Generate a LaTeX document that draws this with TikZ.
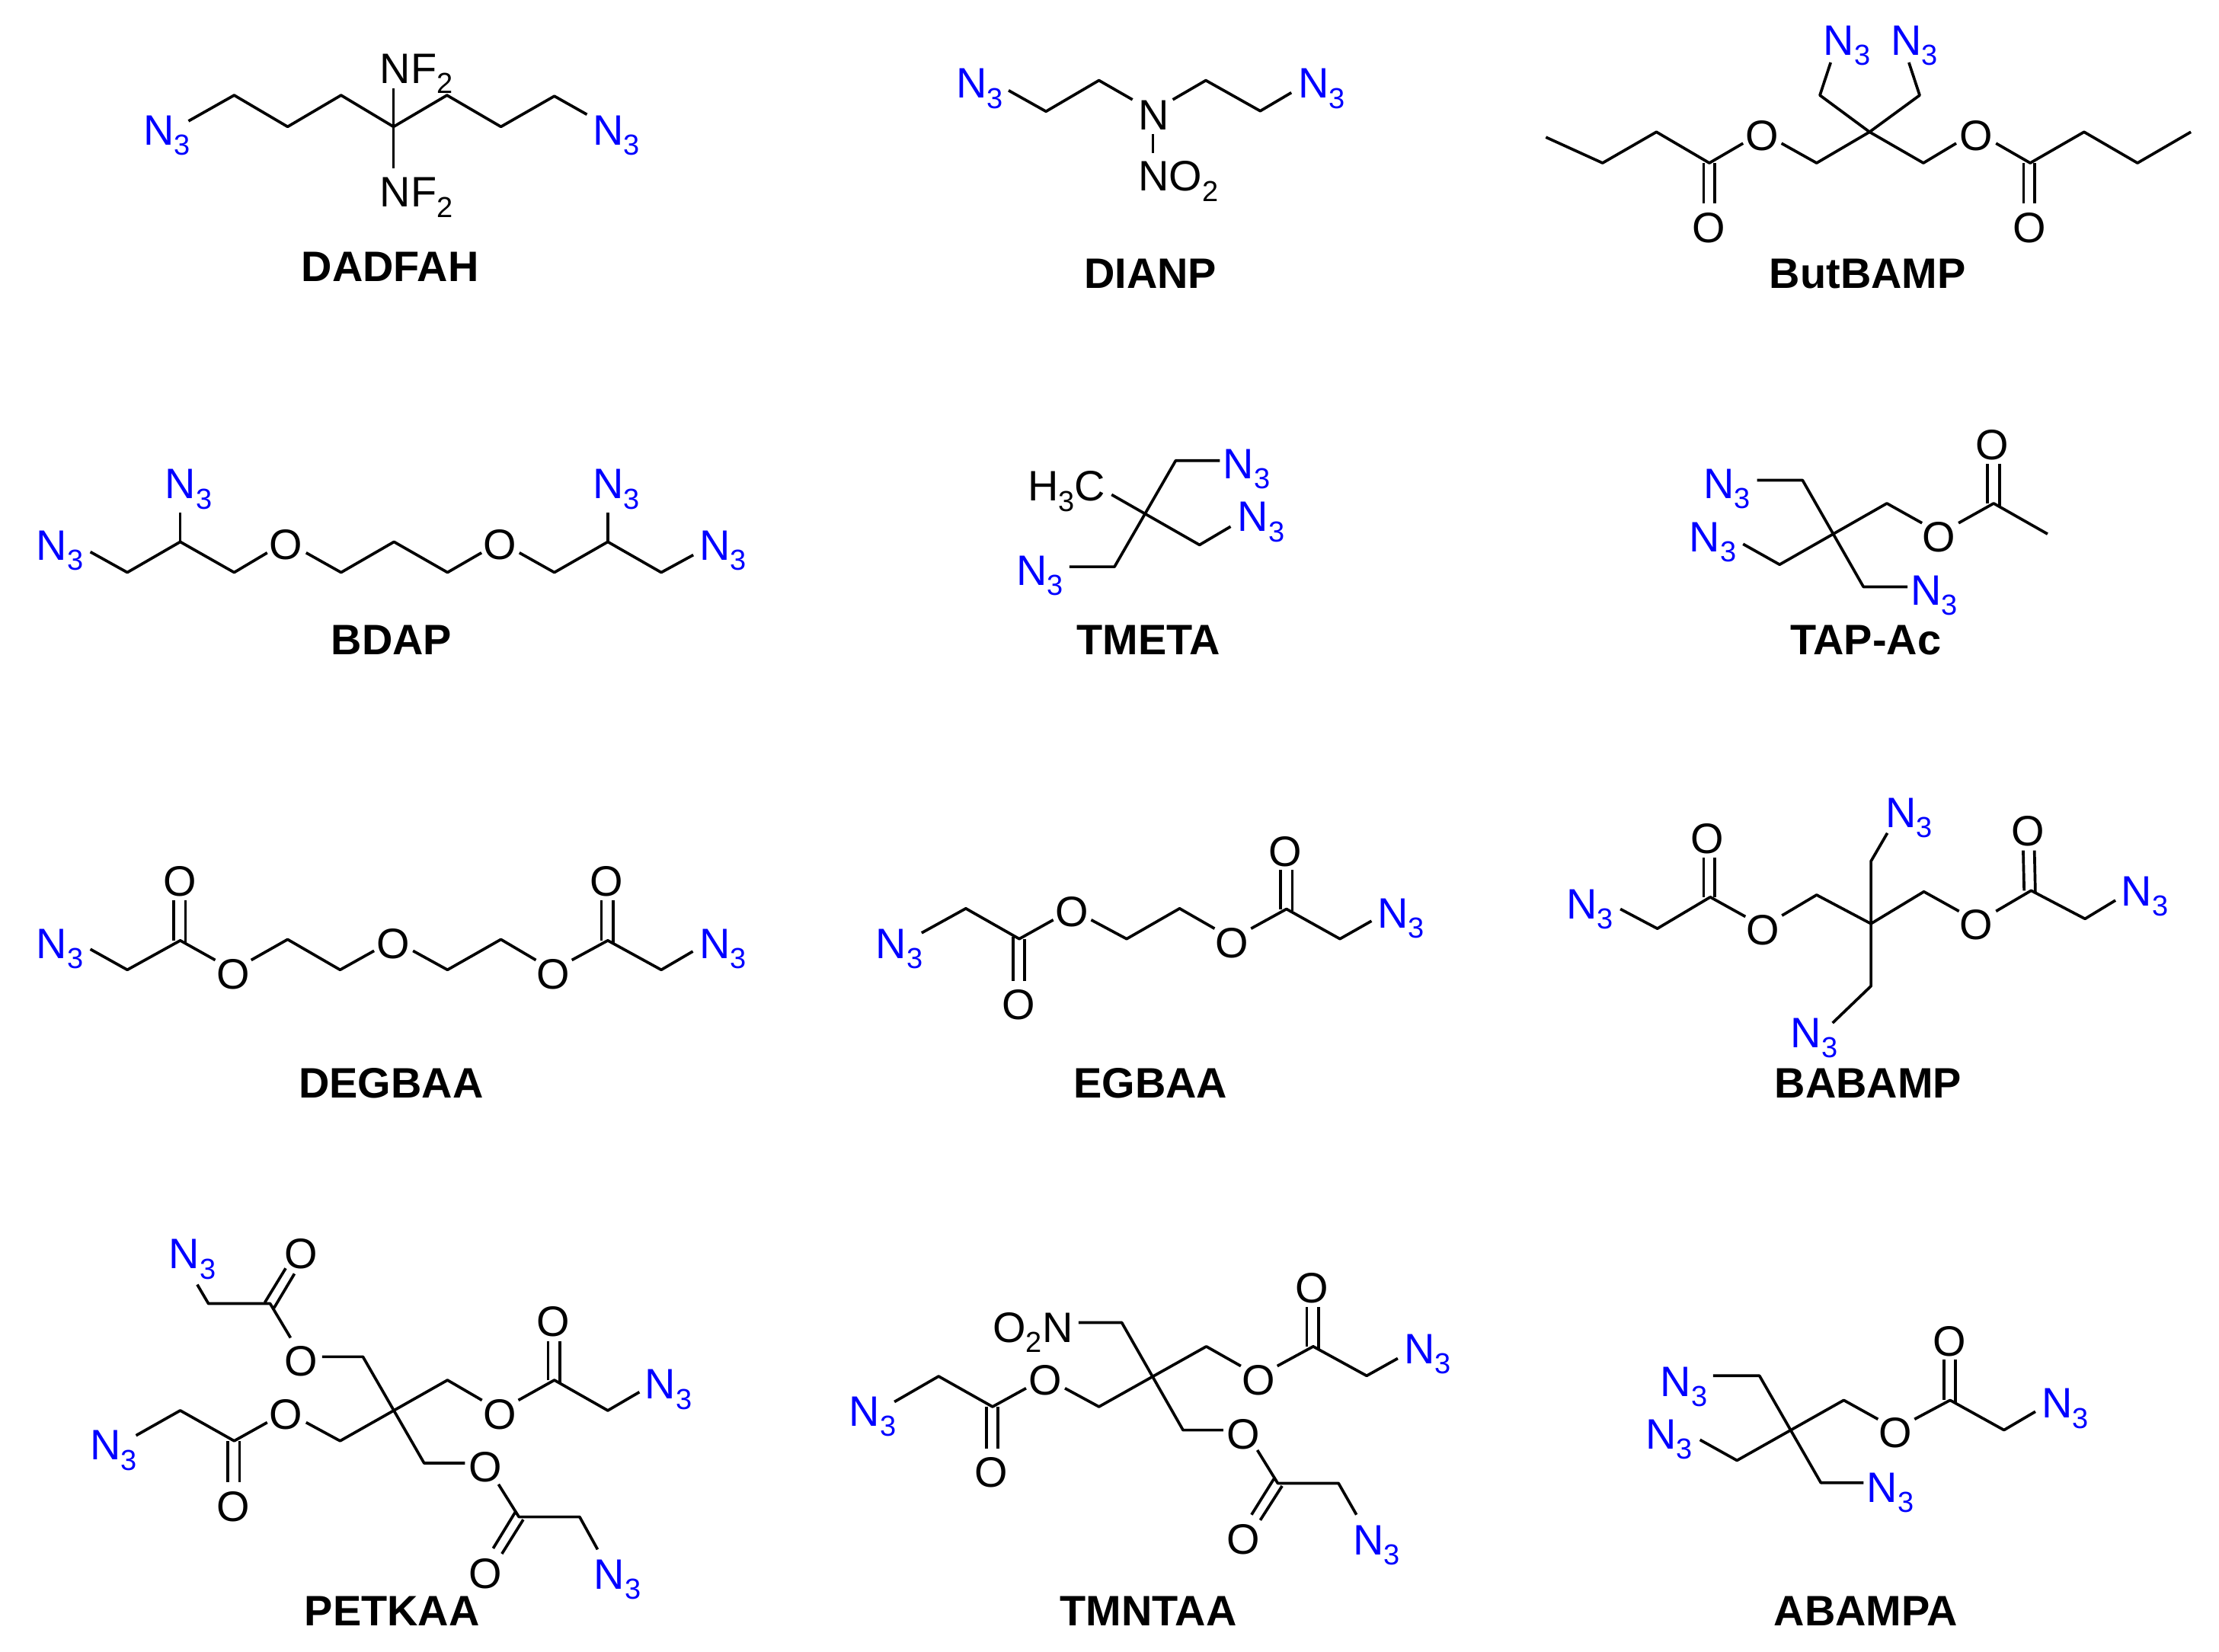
\documentclass[tikz,border=0pt]{standalone}
\usepackage{fontspec}
\setmainfont{Liberation Sans}
\definecolor{azide}{RGB}{0,0,255}
\newcommand\subs[1]{\raisebox{-3.8pt}{\fontsize{10.8pt}{12pt}\selectfont #1}}
\newcommand\NT[2]{\node[lab,azide] (#1) at (#2) {N\subs{3}};}
\newcommand\OX[2]{\node[oxy] (#1) at (#2) {O};}
\tikzset{
  bond/.style={line width=1.05pt,line join=round,line cap=butt},
  lab/.style={anchor=base west,inner sep=0pt,xshift=-0.04cm,yshift=-0.02cm,font=\fontsize{15.9pt}{18pt}\selectfont},
  oxy/.style={anchor=center,inner sep=0pt,yshift=-0.02cm,font=\fontsize{15.9pt}{18pt}\selectfont},
  title/.style={anchor=center,inner sep=0pt,yshift=-0.012cm,font=\fontsize{15.9pt}{18pt}\selectfont\bfseries},
  cropA/.style={shift={(0cm,0cm)},x=0.00637821cm,y=-0.00574038cm},
  cropB/.style={shift={(10cm,0cm)},x=0.00637821cm,y=-0.00574038cm},
  cropC/.style={shift={(19.5cm,0cm)},x=0.00614222cm,y=-0.00574038cm},
  cropD/.style={shift={(0cm,-10.51cm)},x=0.00637821cm,y=-0.00713083cm},
  cropE/.style={shift={(10cm,-10.51cm)},x=0.00637821cm,y=-0.00713083cm},
  cropF/.style={shift={(19.5cm,-10.51cm)},x=0.00614222cm,y=-0.00713083cm},
}
\begin{document}
\begin{tikzpicture}
\useasboundingbox (0,0) rectangle (29.13,-21.68);
\fill[white] (0,0) rectangle (29.13,-21.68);

% ---------- DADFAH and BDAP
\begin{scope}[cropA]
\draw[bond] (388,277)--(482,218)--(592,290)--(702,218)--(810,290)--(920,218)--(1031,290)--(1141,220)--(1208,262);
\draw[bond] (810,202)--(810,385);
\NT{dadA}{300,328}
\NT{dadB}{1225,328}
\node[lab] (dadC) at (787,187) {NF\subs{2}};
\node[lab] (dadD) at (787,470) {NF\subs{2}};
\node[title] (tDADFAH) at (803,608) {DADFAH};

\draw[bond] (186,1263)--(262,1310)--(371,1240)--(482,1310)--(550,1265);
\draw[bond] (630,1265)--(702,1310)--(811,1240)--(921,1310)--(991,1265);
\draw[bond] (1069,1265)--(1141,1310)--(1251,1240)--(1361,1310)--(1427,1270);
\draw[bond] (371,1240)--(371,1173);
\draw[bond] (1251,1240)--(1251,1173);
\NT{bdA}{80,1278}
\NT{bdB}{345,1138}
\NT{bdC}{1225,1138}
\NT{bdD}{1445,1278}
\OX{bdE}{589,1244}
\OX{bdF}{1029,1244}
\node[title] (tBDAP) at (806,1463) {BDAP};
\end{scope}

% ---------- DIANP and TMETA
\begin{scope}[cropB]
\draw[bond] (508,207)--(585,255)--(694,184)--(763,228);
\draw[bond] (846,228)--(914,184)--(1026,254)--(1090,212);
\draw[bond] (805,306)--(805,350);
\NT{diA}{405,221}
\NT{diB}{1109,221}
\node[lab] (diC) at (780,293) {N};
\node[lab] (diD) at (780,434) {NO\subs{2}};
\node[title] (tDIANP) at (800,625) {DIANP};

\draw[bond] (720,1132)--(901,1247)--(965,1205);
\draw[bond] (943,1054)--(852,1054)--(726,1297)--(633,1297);
\node[lab] (tmA) at (553,1143) {H\subs{3}C};
\NT{tmB}{955,1092}
\NT{tmC}{985,1213}
\NT{tmD}{529,1336}
\node[title] (tTMETA) at (796,1463) {TMETA};
\end{scope}

% ---------- ButBAMP and TAP-Ac
\begin{scope}[cropC]
\draw[bond] (129,314)--(250,373)--(365,302)--(478,373)--(550,328);
\draw[bond] (632,328)--(707,373)--(820,302)--(935,373)--(1005,328);
\draw[bond] (1090,328)--(1163,373)--(1278,302)--(1392,373)--(1506,302);
\draw[bond] (737,143)--(714,218)--(820,302)--(927,218)--(904,143);
\draw[bond] (466,373)--(466,466) (490,373)--(490,466);
\draw[bond] (1149,373)--(1149,466) (1173,373)--(1173,466);
\OX{buA}{591,307}
\OX{buB}{1047,307}
\OX{buC}{477,518}
\OX{buD}{1161,518}
\NT{buE}{727,123}
\NT{buF}{871,123}
\node[title] (tButBAMP) at (816,625) {ButBAMP};

\draw[bond] (580,1099)--(677,1099)--(807,1343)--(901,1343);
\draw[bond] (550,1245)--(628,1292)--(857,1152)--(932,1197);
\draw[bond] (1010,1197)--(1085,1152)--(1200,1222);
\draw[bond] (1072,1152)--(1072,1062) (1098,1160)--(1098,1062);
\OX{taA}{968,1226}
\OX{taB}{1082,1015}
\NT{taC}{471,1137}
\NT{taD}{441,1259}
\NT{taE}{913,1381}
\node[title] (tTAPAc) at (812,1463) {TAP-Ac};
\end{scope}

% ---------- DEGBAA and PETKAA
\begin{scope}[cropD]
\draw[bond] (186,274)--(262,312)--(371,258)--(443,294);
\draw[bond] (517,294)--(592,256)--(700,312)--(770,277);
\draw[bond] (850,277)--(921,312)--(1031,256)--(1103,294);
\draw[bond] (1177,294)--(1251,258)--(1361,312)--(1426,278);
\draw[bond] (358,258)--(358,184) (382,262)--(382,184);
\draw[bond] (1238,258)--(1238,184) (1262,262)--(1262,184);
\OX{deA}{370,147}
\OX{deB}{480,317}
\OX{deC}{809,261}
\OX{deD}{1139,317}
\OX{deE}{1249,147}
\NT{deF}{80,288}
\NT{deG}{1445,288}
\node[title] (tDEGBAA) at (805,519) {DEGBAA};

\draw[bond] (406,892)--(429,927)--(556,927)--(598,990);
\draw[bond] (545,925)--(588,862) (564,935)--(606,872);
\draw[bond] (663,1025)--(747,1025)--(873,1221)--(957,1221);
\draw[bond] (1026,1260)--(1068,1320)--(1193,1320)--(1230,1380);
\draw[bond] (1060,1312)--(1015,1378) (1077,1325)--(1033,1388);
\draw[bond] (280,1170)--(371,1124)--(482,1180)--(550,1146);
\draw[bond] (630,1146)--(700,1180)--(921,1068)--(992,1105);
\draw[bond] (1067,1105)--(1141,1068)--(1251,1124)--(1316,1090);
\draw[bond] (1128,1068)--(1128,996) (1152,1072)--(1152,996);
\draw[bond] (469,1180)--(469,1256) (493,1180)--(493,1256);
\NT{peA}{353,860}
\OX{peB}{619,833}
\OX{peC}{619,1030}
\OX{peD}{999,1226}
\OX{peE}{999,1422}
\NT{peF}{1228,1450}
\OX{peG}{589,1129}
\OX{peH}{1029,1128}
\OX{peI}{1139,958}
\NT{peJ}{1333,1100}
\NT{peK}{191,1212}
\OX{peL}{480,1298}
\node[title] (tPETKAA) at (807,1492) {PETKAA};
\end{scope}

% ---------- EGBAA and TMNTAA
\begin{scope}[cropE]
\draw[bond] (329,244)--(420,199)--(530,255)--(600,220);
\draw[bond] (678,220)--(751,255)--(860,199)--(932,236);
\draw[bond] (1007,236)--(1080,200)--(1190,255)--(1255,222);
\draw[bond] (517,251)--(517,332) (541,255)--(541,332);
\draw[bond] (1068,200)--(1068,128) (1092,204)--(1092,128);
\NT{egA}{240,288}
\OX{egB}{638,203}
\OX{egC}{968,260}
\NT{egD}{1272,232}
\OX{egE}{528,374}
\OX{egF}{1078,91}
\node[title] (tEGBAA) at (800,519) {EGBAA};

\draw[bond] (652,962)--(741,962)--(867,1160)--(950,1160);
\draw[bond] (1020,1197)--(1062,1258)--(1187,1258)--(1224,1316);
\draw[bond] (1054,1250)--(1008,1316) (1071,1263)--(1026,1326);
\draw[bond] (273,1108)--(364,1061)--(475,1117)--(544,1083);
\draw[bond] (624,1083)--(694,1117)--(915,1006)--(986,1042);
\draw[bond] (1061,1042)--(1135,1006)--(1245,1060)--(1309,1028);
\draw[bond] (462,1117)--(462,1194) (486,1117)--(486,1194);
\draw[bond] (1122,1006)--(1122,933) (1146,1010)--(1146,933);
\node[lab] (tnA) at (481,995) {O\subs{2}N};
\OX{tnB}{992,1165}
\OX{tnC}{992,1359}
\NT{tnD}{1222,1387}
\OX{tnE}{583,1066}
\OX{tnF}{1022,1065}
\NT{tnG}{1327,1035}
\NT{tnH}{185,1150}
\OX{tnI}{473,1235}
\OX{tnJ}{1132,896}
\node[title] (tTMNTAA) at (796,1492) {TMNTAA};
\end{scope}

% ---------- BABAMP and ABAMPA
\begin{scope}[cropF]
\draw[bond] (288,200)--(367,236)--(480,178)--(555,214);
\draw[bond] (633,212)--(707,174)--(823,227)--(936,168)--(1011,204);
\draw[bond] (1090,204)--(1165,166)--(1280,218)--(1345,184);
\draw[bond] (858,60)--(823,112)--(823,342)--(741,410);
\draw[bond] (466,178)--(466,105) (490,178)--(490,105);
\draw[bond] (1150,166)--(1148,92) (1174,170)--(1172,92);
\NT{baA}{178,215}
\OX{baB}{593,236}
\OX{baC}{1048,226}
\NT{baD}{1363,191}
\NT{baE}{860,47}
\NT{baF}{657,452}
\OX{baG}{474,68}
\OX{baH}{1159,53}
\node[title] (tBABAMP) at (817,519) {BABAMP};

\draw[bond] (486,1060)--(585,1060)--(716,1257)--(807,1257);
\draw[bond] (458,1178)--(537,1216)--(765,1105)--(838,1140);
\draw[bond] (916,1140)--(992,1105)--(1107,1160)--(1174,1126);
\draw[bond] (979,1105)--(979,1030) (1003,1109)--(1003,1030);
\NT{abA}{379,1095}
\NT{abB}{820,1290}
\NT{abC}{347,1192}
\OX{abD}{876,1163}
\NT{abE}{1193,1135}
\OX{abF}{991,994}
\node[title] (tABAMPA) at (812,1492) {ABAMPA};
\end{scope}
\end{tikzpicture}
\end{document}
